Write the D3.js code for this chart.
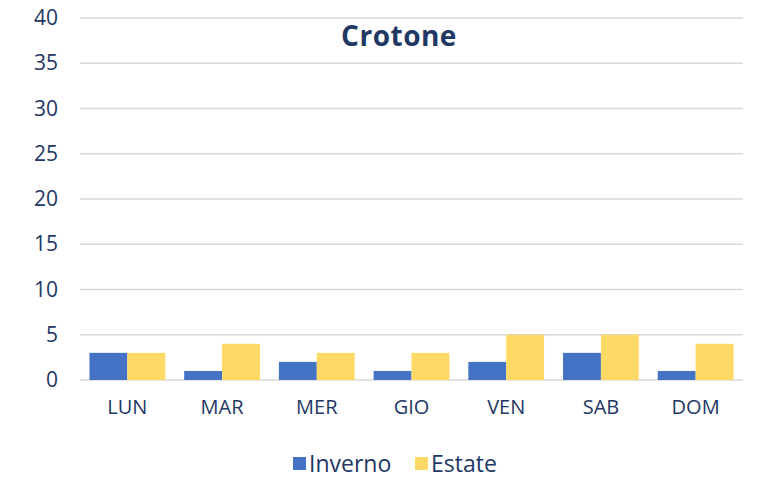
<!DOCTYPE html>
<meta charset="utf-8">
<script src="https://d3js.org/d3.v7.min.js"></script>
<style>
  body { margin: 0; background: #fff; }
  text { font-family: "Open Sans", Lato, sans-serif; fill: #1f3864; }
</style>
<div id="chart"></div>
<script>
// data
var days = ["LUN", "MAR", "MER", "GIO", "VEN", "SAB", "DOM"];
var inverno = [3, 1, 2, 1, 2, 3, 1];
var estate = [3, 4, 3, 3, 5, 5, 4];
var seriesNames = ["Inverno", "Estate"];
var yTicks = [0, 5, 10, 15, 20, 25, 30, 35, 40];
var colors = ["#4472c4", "#ffd966"];

var W = 757, H = 484;
var margin = {top: 18, right: 14, bottom: 104, left: 80};
var width = W - margin.left - margin.right,
    height = H - margin.top - margin.bottom;

var svg = d3.select("#chart").append("svg")
    .attr("width", W).attr("height", H);
var g = svg.append("g")
    .attr("transform", "translate(" + margin.left + "," + margin.top + ")");

var y = d3.scaleLinear().domain([0, 40]).range([height, 0]);
var x = d3.scaleBand().domain(days).range([0, width]).paddingInner(0.2).paddingOuter(0.1);
var x1 = d3.scaleBand().domain(seriesNames).range([0, x.bandwidth()]);

// gridlines
g.selectAll(".grid").data(yTicks).enter().append("line")
    .attr("x1", 0).attr("x2", width)
    .attr("y1", function(d) { return y(d); })
    .attr("y2", function(d) { return y(d); })
    .attr("stroke", "#d9d9d9").attr("stroke-width", 1.5);

// y labels
var yAxis = g.append("g").call(d3.axisLeft(y).tickValues(yTicks).tickSize(0).tickPadding(22));
yAxis.select(".domain").remove();
yAxis.selectAll("text").style("font-size", "21px").attr("fill", "#1f3864");

// bars
var rows = days.map(function(d, i) { return {day: d, vals: [inverno[i], estate[i]]}; });
var groups = g.selectAll(".day").data(rows).enter().append("g")
    .attr("transform", function(d) { return "translate(" + x(d.day) + ",0)"; });
groups.selectAll("rect").data(function(d) { return d.vals; }).enter().append("rect")
    .attr("x", function(d, i) { return x1(seriesNames[i]); })
    .attr("width", x1.bandwidth())
    .attr("y", function(d) { return y(d); })
    .attr("height", function(d) { return height - y(d); })
    .attr("fill", function(d, i) { return colors[i]; });

// x labels
var xAxis = g.append("g").attr("transform", "translate(0," + height + ")")
    .call(d3.axisBottom(x).tickSize(0).tickPadding(20));
xAxis.select(".domain").remove();
xAxis.selectAll("text").style("font-size", "20px").attr("fill", "#1f3864");

// title
svg.append("text").attr("x", 399).attr("y", 46)
    .attr("text-anchor", "middle")
    .style("font-size", "28px").style("font-weight", "bold")
    .style("letter-spacing", "0.5px")
    .text("Crotone");

// legend
var legX = [293, 415];
seriesNames.forEach(function(s, i) {
  svg.append("rect").attr("x", legX[i]).attr("y", 457).attr("width", 13).attr("height", 13)
      .attr("fill", colors[i]);
  svg.append("text").attr("x", legX[i] + 16).attr("y", 472)
      .style("font-size", "23px").text(s);
});
</script>
